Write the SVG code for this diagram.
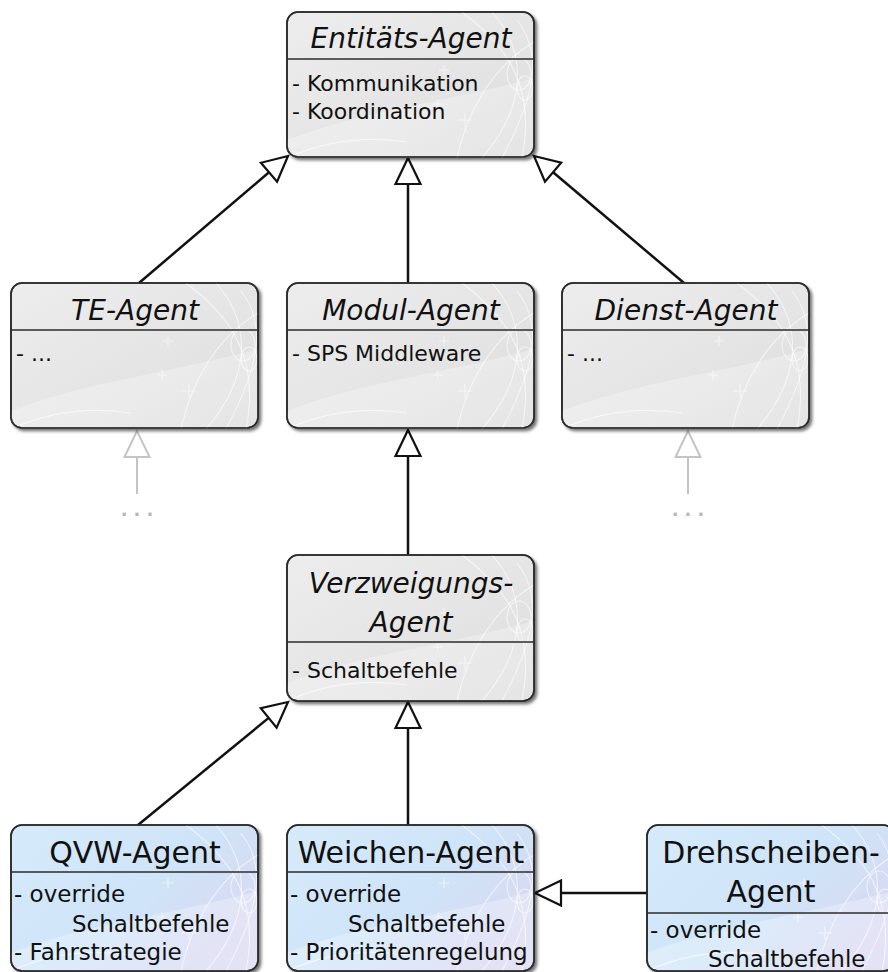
<svg xmlns="http://www.w3.org/2000/svg" xmlns:xlink="http://www.w3.org/1999/xlink" width="888" height="972" viewBox="0 0 888 972">
  <style>
    .box { stroke: #2b2b2b; stroke-width: 1.6; }
    .gray { fill: url(#gGray); }
    .blue { fill: url(#gBlue); }
    .div { stroke: #2b2b2b; stroke-width: 1.4; }
    .ti { font-family: "DejaVu Sans", "Liberation Sans", sans-serif; font-size: 28px; font-style: italic; fill: #111; text-anchor: middle; }
    .tn { font-family: "DejaVu Sans", "Liberation Sans", sans-serif; font-size: 30px; fill: #111; text-anchor: middle; }
    .b { font-family: "DejaVu Sans", "Liberation Sans", sans-serif; font-size: 22px; fill: #111; }
    .bb { font-family: "DejaVu Sans", "Liberation Sans", sans-serif; font-size: 23px; fill: #111; }
    .con { stroke: #111; stroke-width: 2.5; fill: none; }
    .head { stroke: #111; stroke-width: 2.2; fill: #fff; stroke-linejoin: miter; }
    .ghost { stroke: #c4c4c4; stroke-width: 2; fill: none; }
    .ghosthead { stroke: #c4c4c4; stroke-width: 2; fill: #fff; }
    .dots { font-family: "DejaVu Sans", sans-serif; font-size: 18px; font-weight: bold; fill: #b8b8b8; text-anchor: middle; letter-spacing: 6px; }
    .sw { stroke: #fff; stroke-width: 1.1; fill: none; opacity: 0.6; }
  </style>
  <defs>
    <linearGradient id="gGray" x1="0" y1="0" x2="1" y2="1">
      <stop offset="0" stop-color="#ededed"/>
      <stop offset="0.6" stop-color="#e4e4e4"/>
      <stop offset="1" stop-color="#dbdbdb"/>
    </linearGradient>
    <linearGradient id="gBlue" x1="0" y1="0" x2="1" y2="0.6">
      <stop offset="0" stop-color="#d5eafa"/>
      <stop offset="0.6" stop-color="#cfe4f8"/>
      <stop offset="1" stop-color="#d8d9f2"/>
    </linearGradient>
    <filter id="sh" x="-5%" y="-5%" width="115%" height="120%">
      <feDropShadow dx="2.5" dy="2.5" stdDeviation="1.5" flood-color="#000" flood-opacity="0.55"/>
    </filter>
    <clipPath id="clip">
      <rect x="0" y="0" width="247" height="146" rx="11"/>
    </clipPath>
    <g id="deco">
      <path d="M0,128 C70,100 150,92 247,66 L247,146 L0,146 Z" fill="#fff" opacity="0.28"/>
      <path class="sw" d="M175,0 C215,30 250,70 235,146"/>
      <path class="sw" d="M205,0 C245,45 235,100 195,146"/>
      <path class="sw" d="M247,30 C205,55 180,100 170,146"/>
      <path class="sw" d="M230,8 C255,40 250,80 215,146"/>
      <ellipse class="sw" cx="232" cy="62" rx="12" ry="16"/>
      <ellipse class="sw" cx="238" cy="76" rx="8" ry="12"/>
      <path class="sw" d="M0,146 C40,128 80,124 120,130"/>
      <path class="sw" d="M152,58 h10 M157,53 v10 M146,92 h10 M151,87 v10 M171,108 h14 M178,101 v14"/>
    </g>
  </defs>

  <g id="connectors">
    <!-- TE-Agent -> Entitäts-Agent -->
    <line class="con" x1="139" y1="283" x2="269" y2="172.3"/>
    <polygon class="head" points="288,156 260.9,162.8 277.1,181.8"/>
    <!-- Modul-Agent -> Entitäts-Agent -->
    <line class="con" x1="408" y1="283" x2="408" y2="184"/>
    <polygon class="head" points="408,158 395.5,184 420.5,184"/>
    <!-- Dienst-Agent -> Entitäts-Agent -->
    <line class="con" x1="684" y1="283" x2="553.1" y2="172.2"/>
    <polygon class="head" points="534,156 561.2,162.7 545,181.7"/>
    <!-- Verzweigungs-Agent -> Modul-Agent -->
    <line class="con" x1="408" y1="555" x2="408" y2="456"/>
    <polygon class="head" points="408,430 395.5,456 420.5,456"/>
    <!-- QVW-Agent -> Verzweigungs-Agent -->
    <line class="con" x1="138" y1="825" x2="268.7" y2="717.9"/>
    <polygon class="head" points="288,702 260.8,708.2 276.6,727.6"/>
    <!-- Weichen-Agent -> Verzweigungs-Agent -->
    <line class="con" x1="408" y1="825" x2="408" y2="728"/>
    <polygon class="head" points="408,702 395.5,728 420.5,728"/>
    <!-- Drehscheiben-Agent -> Weichen-Agent -->
    <line class="con" x1="647" y1="893" x2="561" y2="893"/>
    <polygon class="head" points="535,893 561,880.5 561,905.5"/>
    <!-- ghost arrows -->
    <line class="ghost" x1="137" y1="494" x2="137" y2="457"/>
    <polygon class="ghosthead" points="137,431 124.5,457 149.5,457"/>
    <text class="dots" x="140" y="516">...</text>
    <line class="ghost" x1="688" y1="494" x2="688" y2="457"/>
    <polygon class="ghosthead" points="688,431 675.5,457 700.5,457"/>
    <text class="dots" x="691" y="516">...</text>
  </g>

  <g id="entitaets-agent" transform="translate(287,12)">
    <rect class="box gray" width="247" height="145" rx="11" filter="url(#sh)"/>
    <g clip-path="url(#clip)"><use href="#deco"/></g>
    <rect class="box" width="247" height="145" rx="11" fill="none"/>
    <line class="div" x1="0" y1="47" x2="247" y2="47"/>
    <text class="ti" x="124" y="36">Entitäts-Agent</text>
    <text class="b" x="5" y="79">- Kommunikation</text>
    <text class="b" x="5" y="107">- Koordination</text>
  </g>

  <g id="te-agent" transform="translate(11,283)">
    <rect class="box gray" width="247" height="145" rx="11" filter="url(#sh)"/>
    <g clip-path="url(#clip)"><use href="#deco"/></g>
    <rect class="box" width="247" height="145" rx="11" fill="none"/>
    <line class="div" x1="0" y1="47" x2="247" y2="47"/>
    <text class="ti" x="124" y="37">TE-Agent</text>
    <text class="b" x="5" y="78">- ...</text>
  </g>

  <g id="modul-agent" transform="translate(287,283)">
    <rect class="box gray" width="247" height="145" rx="11" filter="url(#sh)"/>
    <g clip-path="url(#clip)"><use href="#deco"/></g>
    <rect class="box" width="247" height="145" rx="11" fill="none"/>
    <line class="div" x1="0" y1="47" x2="247" y2="47"/>
    <text class="ti" x="124" y="37">Modul-Agent</text>
    <text class="b" x="5" y="78">- SPS Middleware</text>
  </g>

  <g id="dienst-agent" transform="translate(562,283)">
    <rect class="box gray" width="247" height="145" rx="11" filter="url(#sh)"/>
    <g clip-path="url(#clip)"><use href="#deco"/></g>
    <rect class="box" width="247" height="145" rx="11" fill="none"/>
    <line class="div" x1="0" y1="47" x2="247" y2="47"/>
    <text class="ti" x="124" y="37">Dienst-Agent</text>
    <text class="b" x="5" y="78">- ...</text>
  </g>

  <g id="verzweigungs-agent" transform="translate(287,555)">
    <rect class="box gray" width="247" height="146" rx="11" filter="url(#sh)"/>
    <g clip-path="url(#clip)"><use href="#deco"/></g>
    <rect class="box" width="247" height="146" rx="11" fill="none"/>
    <line class="div" x1="0" y1="87" x2="247" y2="87"/>
    <text class="ti" x="124" y="38">Verzweigungs-</text>
    <text class="ti" x="124" y="77">Agent</text>
    <text class="b" x="5" y="123">- Schaltbefehle</text>
  </g>

  <g id="qvw-agent" transform="translate(11,825)">
    <rect class="box blue" width="247" height="146" rx="11" filter="url(#sh)"/>
    <g clip-path="url(#clip)"><use href="#deco"/></g>
    <rect class="box" width="247" height="146" rx="11" fill="none"/>
    <line class="div" x1="0" y1="47" x2="247" y2="47"/>
    <text class="tn" x="124" y="38">QVW-Agent</text>
    <text class="bb" x="3" y="77">- override</text>
    <text class="bb" x="61" y="107">Schaltbefehle</text>
    <text class="bb" x="3" y="135">- Fahrstrategie</text>
  </g>

  <g id="weichen-agent" transform="translate(287,825)">
    <rect class="box blue" width="247" height="146" rx="11" filter="url(#sh)"/>
    <g clip-path="url(#clip)"><use href="#deco"/></g>
    <rect class="box" width="247" height="146" rx="11" fill="none"/>
    <line class="div" x1="0" y1="47" x2="247" y2="47"/>
    <text class="tn" x="124" y="38">Weichen-Agent</text>
    <text class="bb" x="3" y="77">- override</text>
    <text class="bb" x="61" y="107">Schaltbefehle</text>
    <text class="bb" x="3" y="135">- Prioritätenregelung</text>
  </g>

  <g id="drehscheiben-agent" transform="translate(647,825)">
    <rect class="box blue" width="247" height="146" rx="11" filter="url(#sh)"/>
    <g clip-path="url(#clip)"><use href="#deco"/></g>
    <rect class="box" width="247" height="146" rx="11" fill="none"/>
    <line class="div" x1="0" y1="88" x2="247" y2="88"/>
    <text class="tn" x="124" y="38">Drehscheiben-</text>
    <text class="tn" x="124" y="77">Agent</text>
    <text class="bb" x="3" y="113">- override</text>
    <text class="bb" x="61" y="142">Schaltbefehle</text>
  </g>
</svg>
